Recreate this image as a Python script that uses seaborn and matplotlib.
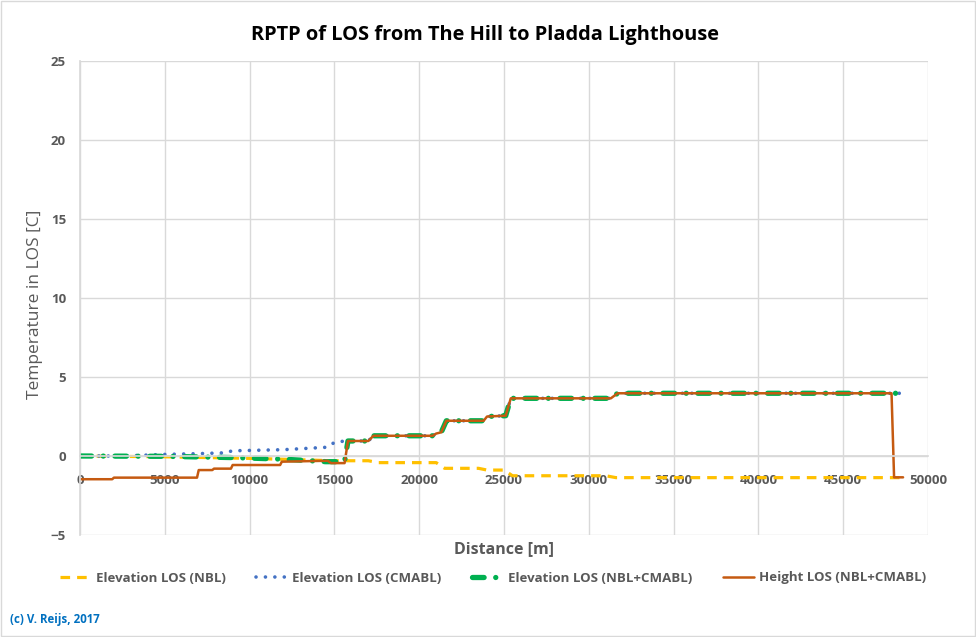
import matplotlib
matplotlib.use("Agg")
import matplotlib.pyplot as plt
import seaborn as sns
import pandas as pd

# ---- data ----
nbl_x = [0, 5000, 10000, 15000, 17000, 17600, 21000, 21500, 23500, 24000, 25000, 25500,
         31000, 31600, 48600]
nbl_y = [0.0, -0.05, -0.15, -0.3, -0.3, -0.42, -0.42, -0.78, -0.78, -0.89, -0.89, -1.25,
         -1.25, -1.37, -1.37]

cmabl_x = [0, 2500, 5000, 7000, 8500, 9000, 12000, 14500, 15000, 15600, 15800, 17000, 17300,
           20800, 21000, 21300, 21600, 23800, 24000, 25100, 25400, 31300, 31700, 48600]
cmabl_y = [0.0, 0.0, 0.1, 0.15, 0.2, 0.33, 0.4, 0.55, 0.85, 0.95, 0.95, 0.95, 1.28,
           1.28, 1.42, 1.5, 2.23, 2.23, 2.5, 2.55, 3.65, 3.65, 3.97, 3.97]

comb_x = [0, 5000, 9000, 12000, 14500, 15600, 15800, 17000, 17300, 20800, 21000, 21300,
          21600, 23800, 24000, 25100, 25400, 31300, 31700, 48600]
comb_y = [0.0, -0.02, -0.1, -0.2, -0.36, -0.36, 0.95, 0.95, 1.28, 1.28, 1.42, 1.5, 2.23,
          2.23, 2.5, 2.55, 3.65, 3.65, 3.97, 3.97]

height_x = [0, 1900, 2000, 6900, 7000, 7800, 7900, 8900, 9000, 11800, 11900, 14600, 14800,
            15600, 15800, 17000, 17300, 20800, 21000, 21300, 21600, 23800, 24000, 25100,
            25400, 31300, 31700, 47850, 48000, 48530]
height_y = [-1.47, -1.47, -1.37, -1.37, -0.89, -0.89, -0.8, -0.8, -0.57, -0.57, -0.36,
            -0.3, -0.45, -0.45, 0.95, 0.95, 1.28, 1.28, 1.42, 1.5, 2.23, 2.23, 2.5, 2.55,
            3.65, 3.65, 3.97, 3.97, -1.35, -1.35]

series_names = ["Elevation LOS (NBL)", "Elevation LOS (CMABL)",
                "Elevation LOS (NBL+CMABL)", "Height LOS (NBL+CMABL)"]
x_ticks = [0, 5000, 10000, 15000, 20000, 25000, 30000, 35000, 40000, 45000, 50000]
y_ticks = [-5, 0, 5, 10, 15, 20, 25]

sns.set_theme(style="white")
plt.rcParams['font.family'] = ['Open Sans', 'DejaVu Sans']

fig = plt.figure(figsize=(9.76, 6.37), dpi=100)
ax = fig.add_axes([80/976, 1-535/637, (928-80)/976, (535-61)/637])

grey = "#595959"
gridc = "#D9D9D9"

dfs = [pd.DataFrame({"x": nbl_x, "y": nbl_y}),
       pd.DataFrame({"x": cmabl_x, "y": cmabl_y}),
       pd.DataFrame({"x": comb_x, "y": comb_y}),
       pd.DataFrame({"x": height_x, "y": height_y})]

sns.lineplot(data=dfs[0], x="x", y="y", ax=ax, color="#FFC000", lw=2.3,
             estimator=None, sort=False, label=series_names[0])
ax.lines[-1].set_dashes([3, 2.2])
sns.lineplot(data=dfs[1], x="x", y="y", ax=ax, color="#4472C4", lw=2.6,
             estimator=None, sort=False, label=series_names[1])
ax.lines[-1].set_dashes([0.01, 2.6]); ax.lines[-1].set_dash_capstyle("round")
sns.lineplot(data=dfs[2], x="x", y="y", ax=ax, color="#00B050", lw=3.8,
             estimator=None, sort=False, label=series_names[2])
ax.lines[-1].set_dashes([2.2, 2.2, 0.01, 2.2]); ax.lines[-1].set_dash_capstyle("round")
sns.lineplot(data=dfs[3], x="x", y="y", ax=ax, color="#C55A11", lw=1.8,
             estimator=None, sort=False, label=series_names[3])

ax.set_xlim(0, 50000)
ax.set_ylim(-5, 25)
ax.set_xticks(x_ticks)
ax.set_yticks(y_ticks)
ax.grid(True, color=gridc, lw=1)
ax.set_axisbelow(True)
for s in ["top", "right"]:
    ax.spines[s].set_visible(False)
ax.spines["left"].set_color(gridc)
ax.spines["bottom"].set_position(("data", 0))
ax.spines["bottom"].set_color(gridc)
ax.tick_params(axis="both", length=0, labelcolor=grey, labelsize=9.5)
ax.tick_params(axis="x", pad=13)
ax.tick_params(axis="y", pad=10)
for t in ax.get_xticklabels() + ax.get_yticklabels():
    t.set_fontweight("bold")
ax.set_xlabel("")
ax.set_ylabel("")

fig.text(504/976, 1-549/637, "Distance [m]", ha="center", va="center",
         fontsize=11.5, fontweight="bold", color=grey)
fig.text(35/976, 1-304/637, "Temperature in LOS [C]", ha="center", va="center",
         rotation=90, fontsize=12.5, color=grey)
fig.text(485/976, 1-35/637, "RPTP of LOS from The Hill to Pladda Lighthouse",
         ha="center", va="center", fontsize=14.4, fontweight="bold", color="black")
fig.text(10/976, 1-620/637, "(c) V. Reijs, 2017", ha="left", va="center",
         fontsize=8.3, fontweight="bold", color="#0070C0")

leg = ax.legend(loc="center", bbox_to_anchor=(493/976, 1-578/637),
                bbox_transform=fig.transFigure, ncol=4, frameon=False,
                fontsize=9.5, handlelength=2.3, handletextpad=0.4, columnspacing=2.35)
for t in leg.get_texts():
    t.set_color(grey)
    t.set_fontweight("bold")

fig.patches.append(plt.Rectangle((0.001, 0.001), 0.998, 0.998, transform=fig.transFigure,
                                 fill=False, edgecolor="#D9D9D9", lw=1))
fig.savefig("out.png", dpi=100)
